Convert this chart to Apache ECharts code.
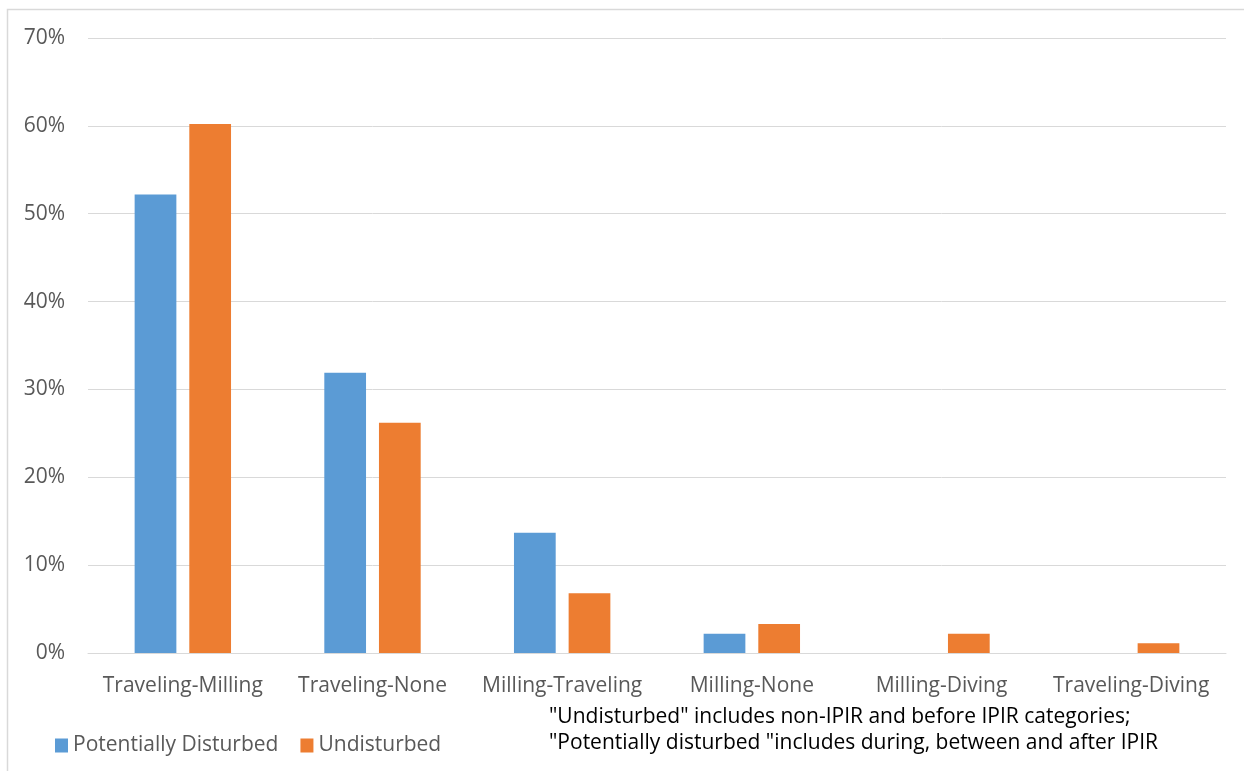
<!DOCTYPE html>
<html>
<head>
<meta charset="utf-8">
<script src="https://cdn.jsdelivr.net/npm/echarts@6/dist/echarts.min.js"></script>
<style>
  html, body { margin: 0; padding: 0; background: #fff; }
  #chart { width: 1244px; height: 771px; }
</style>
</head>
<body>
<div id="chart"></div>
<script>
// Behaviour transition categories
const categories = ['Traveling-Milling', 'Traveling-None', 'Milling-Traveling', 'Milling-None', 'Milling-Diving', 'Traveling-Diving'];
// Share of observations (%)
const potentiallyDisturbed = [52.2, 31.9, 13.7, 2.2, 0, 0];
const undisturbed = [60.2, 26.2, 6.8, 3.3, 2.2, 1.1];
const seriesNames = ['Potentially Disturbed', 'Undisturbed'];
const noteLines = [
  '"Undisturbed" includes non-IPIR and before IPIR categories;',
  '"Potentially disturbed "includes during, between and after IPIR'
];

const FONT = 'Open Sans';
const FS = 21;
const chart = echarts.init(document.getElementById('chart'));
chart.setOption({
  animation: false,
  textStyle: { fontFamily: FONT },
  grid: { left: 88, right: 18, top: 38, bottom: 118 },
  legend: {
    left: 50, top: 730,
    itemWidth: 13, itemHeight: 14, itemGap: 22,
    icon: 'rect',
    textStyle: { fontSize: FS, color: '#595959', fontFamily: FONT },
    data: seriesNames
  },
  xAxis: {
    type: 'category',
    data: categories,
    axisLine: { lineStyle: { color: '#d9d9d9', width: 1 } },
    axisTick: { show: false },
    axisLabel: { color: '#595959', fontSize: FS, margin: 23, fontFamily: FONT, interval: 0 }
  },
  yAxis: {
    type: 'value',
    min: 0, max: 70, interval: 10,
    axisLine: { show: false },
    axisTick: { show: false },
    splitLine: { lineStyle: { color: '#d9d9d9', width: 1 } },
    axisLabel: { color: '#595959', fontSize: FS, margin: 23, formatter: '{value}%', fontFamily: FONT }
  },
  series: [
    {
      name: seriesNames[0], type: 'bar', data: potentiallyDisturbed,
      barWidth: '22%', barGap: '31%',
      itemStyle: { color: '#5b9bd5' }
    },
    {
      name: seriesNames[1], type: 'bar', data: undisturbed,
      barWidth: '22%',
      itemStyle: { color: '#ed7d31' }
    }
  ],
  graphic: [
    {
      type: 'rect', silent: true,
      shape: { x: 7.5, y: 9.5, width: 1260, height: 800 },
      style: { fill: 'none', stroke: '#d9d9d9', lineWidth: 1.5 }
    },
    {
      type: 'text', silent: true,
      style: { x: 549, y: 717, text: noteLines[0], fill: '#000', fontSize: FS, fontFamily: FONT, verticalAlign: 'middle' }
    },
    {
      type: 'text', silent: true,
      style: { x: 549, y: 743, text: noteLines[1], fill: '#000', fontSize: FS, fontFamily: FONT, verticalAlign: 'middle' }
    }
  ]
});
</script>
</body>
</html>
